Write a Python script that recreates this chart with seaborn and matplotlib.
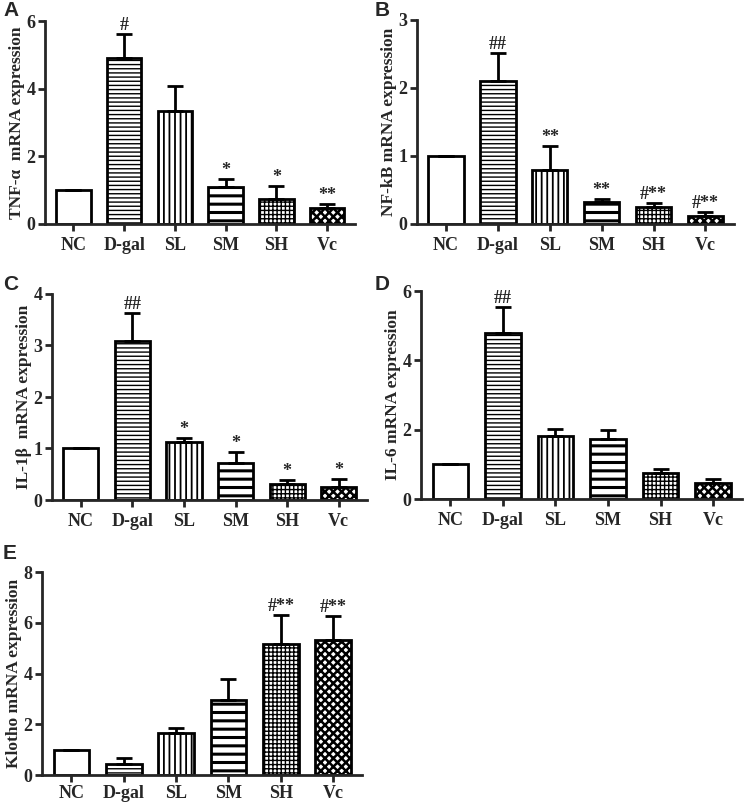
import numpy as np
import pandas as pd
import matplotlib
matplotlib.use("Agg")
import matplotlib.pyplot as plt
import seaborn as sns

groups = ["NC", "D-gal", "SL", "SM", "SH", "Vc"]

tnf_mean = [1.0, 4.92, 3.35, 1.10, 0.73, 0.47]
tnf_err = [0.0, 0.70, 0.72, 0.24, 0.39, 0.13]
tnf_sig = ["", "#", "", "*", "*", "**"]

nfkb_mean = [1.0, 2.11, 0.79, 0.32, 0.25, 0.12]
nfkb_err = [0.0, 0.41, 0.35, 0.05, 0.06, 0.06]
nfkb_sig = ["", "##", "**", "**", "#**", "#**"]

il1b_mean = [1.0, 3.09, 1.12, 0.72, 0.32, 0.26]
il1b_err = [0.0, 0.55, 0.08, 0.21, 0.06, 0.15]
il1b_sig = ["", "##", "*", "*", "*", "*"]

il6_mean = [1.0, 4.79, 1.82, 1.74, 0.75, 0.46]
il6_err = [0.0, 0.74, 0.20, 0.24, 0.11, 0.13]
il6_sig = ["", "##", "", "", "", ""]

klotho_mean = [1.0, 0.44, 1.65, 2.94, 5.16, 5.33]
klotho_err = [0.0, 0.23, 0.19, 0.85, 1.15, 0.93]
klotho_sig = ["", "", "", "", "#**", "#**"]

sns.set_style("ticks")
plt.rcParams["font.family"] = ["Liberation Serif", "DejaVu Serif"]
plt.rcParams["font.weight"] = "bold"
plt.rcParams["hatch.color"] = "black"

hatches = ["", "----", "|||", "--", "++++", "xxxx"]
hatch_lw = [1.0, 1.0, 1.3, 2.2, 1.0, 1.8]

fig = plt.figure(figsize=(7.44, 8.05), dpi=100)

panels = [
    ("A", tnf_mean, tnf_err, tnf_sig, "TNF-α  mRNA expression", [0, 2, 4, 6], 6,
     [45, 355, 21, 224]),
    ("B", nfkb_mean, nfkb_err, nfkb_sig, "NF-kB mRNA expression", [0, 1, 2, 3], 3,
     [417, 734, 20, 224]),
    ("C", il1b_mean, il1b_err, il1b_sig, "IL-1β  mRNA expression", [0, 1, 2, 3, 4], 4,
     [52, 367, 294, 500]),
    ("D", il6_mean, il6_err, il6_sig, "IL-6 mRNA expression", [0, 2, 4, 6], 6,
     [421, 742, 291, 499]),
    ("E", klotho_mean, klotho_err, klotho_sig, "Klotho mRNA expression", [0, 2, 4, 6, 8], 8,
     [42, 362, 572, 775]),
]
letter_pos = {"A": (3, 0.5), "B": (375, 0.5), "C": (3, 275), "D": (375, 275), "E": (3, 544)}

W, H = 744.0, 805.0
for letter, mean, err, sig, ylabel, yticks, ymax, (x0, x1, ytop, ybot) in panels:
    ax = fig.add_axes([x0 / W, 1 - ybot / H, (x1 - x0) / W, (ybot - ytop) / H])
    df = pd.DataFrame({"group": groups, "value": mean})
    sns.barplot(data=df, x="group", y="value", ax=ax, color="white",
                edgecolor="black", linewidth=2, width=0.68, errorbar=None,
                saturation=1)
    for p, h, lw in zip(ax.patches, hatches, hatch_lw):
        p.set_facecolor("white")
        p.set_edgecolor("black")
        p.set_hatch(h)
        if hasattr(p, "set_hatch_linewidth"):
            p.set_hatch_linewidth(lw)
    xs = np.arange(len(groups))
    ax.errorbar(xs, mean, yerr=[np.zeros(len(mean)), err], fmt="none",
                ecolor="black", elinewidth=2, capsize=6, capthick=2, zorder=1)
    for x, m, e, s in zip(xs, mean, err, sig):
        if s:
            ax.annotate(s, (x, m + e), xytext=(0, 0), textcoords="offset points",
                        ha="center", va="bottom", fontsize=13, fontweight="bold")
    ax.set_xlim(-0.56, 5.55)
    ax.set_ylim(0, ymax)
    ax.set_yticks(yticks)
    ax.set_xlabel("")
    ax.set_ylabel(ylabel, fontsize=12.5, fontweight="bold", labelpad=1)
    for side in ["top", "right"]:
        ax.spines[side].set_visible(False)
    for side in ["left", "bottom"]:
        ax.spines[side].set_linewidth(2)
    ax.tick_params(axis="both", width=2, length=5, direction="out")
    ax.tick_params(axis="x", labelsize=13, pad=2 if letter == "E" else 4)
    ax.tick_params(axis="y", labelsize=13, pad=2)
    for lab in ax.get_xticklabels() + ax.get_yticklabels():
        lab.set_fontweight("bold")
    ax.set_facecolor("white")
    lx, ly = letter_pos[letter]
    fig.text(lx / W, 1 - ly / H, letter,
             fontsize=15, fontweight="bold", family=["Liberation Sans", "DejaVu Sans"],
             ha="left", va="top")

fig.savefig("out.png", dpi=100, facecolor="white")
